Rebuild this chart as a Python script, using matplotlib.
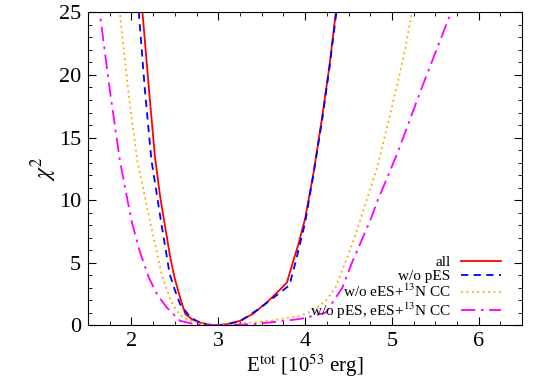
import matplotlib
matplotlib.use("Agg")
import matplotlib.pyplot as plt
from matplotlib.ticker import MultipleLocator

plt.rcParams['font.family'] = ['Liberation Serif', 'DejaVu Serif']
plt.rcParams['mathtext.fontset'] = 'stix'

# chi^2 curves (E in 10^53 erg)
e_all = [2.10, 2.127, 2.20, 2.27, 2.33, 2.38, 2.45, 2.50, 2.56, 2.62, 2.70, 2.80, 2.90, 3.00,
         3.10, 3.25, 3.40, 3.58, 3.72, 3.79, 3.85, 3.92, 4.00, 4.10, 4.20, 4.28, 4.354, 4.38]
chi_all = [27.5, 25.0, 19.0, 13.5, 10.3, 8.2, 5.3, 3.7, 2.2, 0.9, 0.45, 0.18, 0.03, 0.0,
           0.08, 0.34, 0.9, 1.95, 2.9, 3.4, 4.8, 6.4, 8.5, 12.3, 16.8, 20.7, 25.0, 26.5]

e_nopes = [2.06, 2.085, 2.155, 2.23, 2.339, 2.44, 2.50, 2.56, 2.68, 2.80, 2.90, 3.00,
           3.10, 3.25, 3.49, 3.60, 3.75, 3.82, 3.90, 4.00, 4.10, 4.20, 4.28, 4.36, 4.39]
chi_nopes = [27.0, 25.0, 18.8, 13.2, 8.36, 4.09, 2.8, 1.68, 0.6, 0.15, 0.02, 0.0,
             0.05, 0.3, 1.4, 2.0, 2.8, 3.2, 5.3, 8.2, 12.2, 16.6, 20.6, 25.0, 26.5]

e_noees = [1.84, 1.866, 1.962, 2.066, 2.212, 2.35, 2.45, 2.52, 2.60, 2.68, 2.80, 2.90, 3.00,
           3.10, 3.30, 3.60, 3.72, 3.95, 4.10, 4.24, 4.35, 4.49, 4.58, 4.68, 4.83, 4.95,
           5.07, 5.15, 5.23, 5.26]
chi_noees = [27.0, 25.0, 18.8, 13.2, 8.36, 4.0, 2.0, 1.15, 0.6, 0.34, 0.12, 0.03, 0.0,
             0.03, 0.15, 0.34, 0.48, 0.75, 1.2, 1.95, 3.0, 5.5, 7.2, 9.4, 12.6, 16.0,
             19.5, 22.0, 25.0, 26.2]

e_noboth = [1.61, 1.635, 1.751, 1.866, 2.00, 2.10, 2.20, 2.30, 2.408, 2.56, 2.72, 2.90, 3.00,
            3.20, 3.41, 3.58, 3.72, 3.95, 4.10, 4.24, 4.43, 4.54, 4.75, 4.835, 4.98,
            5.077, 5.334, 5.68, 5.72]
chi_noboth = [27.0, 25.0, 18.8, 13.2, 8.36, 5.8, 3.8, 2.4, 1.4, 0.34, 0.08, 0.0, 0.0,
              0.02, 0.08, 0.2, 0.3, 0.5, 0.75, 1.0, 3.0, 5.0, 8.36, 9.96, 12.36,
              14.0, 18.8, 25.0, 25.8]

labels = ['all', 'w/o pES', 'w/o eES+$^{13}$N CC', 'w/o pES, eES+$^{13}$N CC']

fig = plt.figure(figsize=(5.4, 3.78), dpi=100)
ax = fig.add_axes([0.163, 0.14, 0.804, 0.827])

ax.plot(e_all, chi_all, color='#ff0000', lw=1.3, label=labels[0])
ax.plot(e_nopes, chi_nopes, color='#0000ff', lw=1.3, ls=(0, (4, 3)), label=labels[1])
ax.plot(e_noees, chi_noees, color='#ffa500', lw=1.3, ls=(0, (1, 2)), label=labels[2])
ax.plot(e_noboth, chi_noboth, color='#ff00ff', lw=1.3, ls=(0, (8, 3, 1.5, 3)), label=labels[3])

ax.set_xlim(1.5, 6.5)
ax.set_ylim(0, 25)
ax.xaxis.set_major_locator(MultipleLocator(1))
ax.xaxis.set_minor_locator(MultipleLocator(0.25))
ax.yaxis.set_major_locator(MultipleLocator(5))
ax.yaxis.set_minor_locator(MultipleLocator(1))
ax.tick_params(which='both', direction='in', top=True, right=True, labelsize=16)
ax.tick_params(which='major', length=6, pad=5)
ax.tick_params(which='minor', length=3)

ax.set_xlabel('E$^{\\rm tot}$ [10$^{53}$ erg]', fontsize=15, labelpad=1)
ax.set_ylabel('$\\chi^2$', fontsize=17, labelpad=0)

ax.legend(loc='lower right', bbox_to_anchor=(0.965, -0.005), frameon=False,
          markerfirst=False, fontsize=11, handlelength=2.6, labelspacing=0.0,
          borderaxespad=0.0, handletextpad=0.7)

fig.savefig('out.png', dpi=100)
